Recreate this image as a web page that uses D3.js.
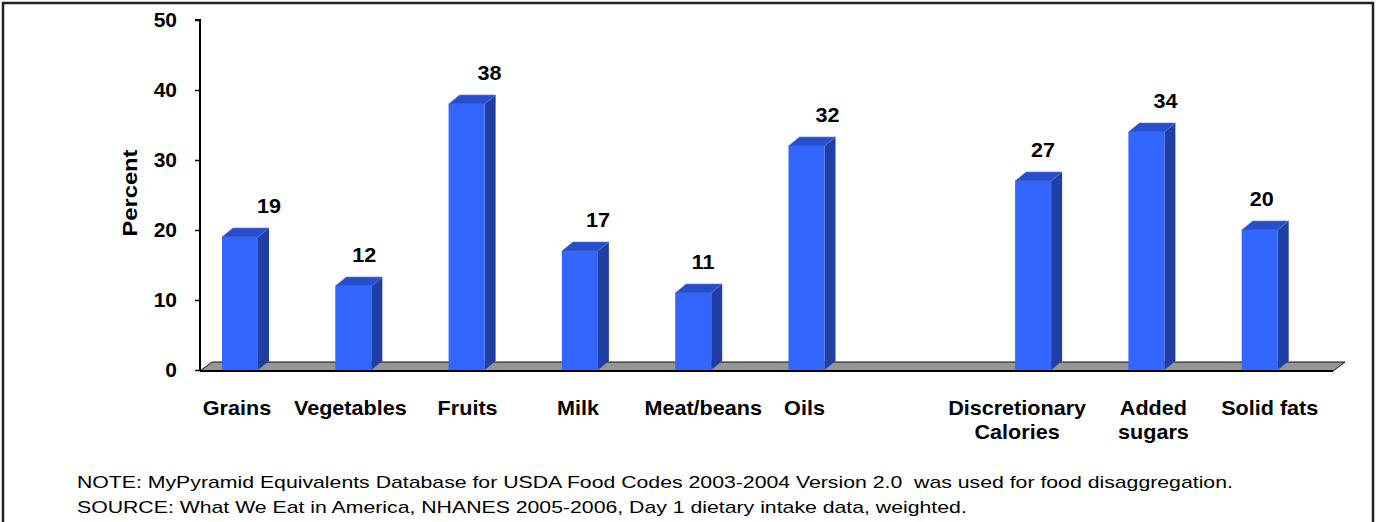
<!DOCTYPE html>
<html>
<head>
<meta charset="utf-8">
<script src="https://cdn.jsdelivr.net/npm/d3@7"></script>
<style>
  html, body { margin: 0; padding: 0; background: #fff; }
  svg { display: block; font-family: Arial, "Liberation Sans", sans-serif; }
  .note { white-space: pre; }
</style>
</head>
<body>
<svg id="chart" width="1382" height="522"></svg>
<script>
// Share of intake by food group (percent); the empty slot separates the two groups
const categories = ["Grains", "Vegetables", "Fruits", "Milk", "Meat/beans", "Oils", "gap",
                    "Discretionary\nCalories", "Added\nsugars", "Solid fats"];
const values = [19, 12, 38, 17, 11, 32, null, 27, 34, 20];
const yTicks = [0, 10, 20, 30, 40, 50];
const yTitle = "Percent";
const notes = [
  "NOTE: MyPyramid Equivalents Database for USDA Food Codes 2003-2004 Version 2.0  was used for food disaggregation.",
  "SOURCE: What We Eat in America, NHANES 2005-2006, Day 1 dietary intake data, weighted."
];

// hand-placed label offsets (px from the bar's front-face centre)
const valueLabelShift = [29, 11, 23, 18, 10, 21, 0, 10, 19, 2];
const categoryLabelShift = [-3, -3, 1, -2, 10, -2, 0, -16, 7, 10];

const svg = d3.select("#chart");

// outer frame
svg.append("rect").attr("x", 3).attr("y", 3).attr("width", 1370).attr("height", 530)
  .attr("fill", "none").attr("stroke", "#222").attr("stroke-width", 2.5);

const x0 = 200, x1 = 1333, yTop = 20, yBase = 370;
const depthX = 11, depthY = 9;
const barW = 36, barInset = 22;
const wide = 1.08; // horizontal stretch of the bold labels

const x = d3.scaleBand().domain(categories).range([x0, x1]).padding(0);
const y = d3.scaleLinear().domain([0, 50]).range([yBase, yTop]);
const frontCenter = c => x(c) + barInset + barW / 2;

// floor of the 3-D plot
const floorY = yBase + 1;
svg.append("path")
  .attr("d", `M${x0},${floorY} L${x1},${floorY} L${x1 + depthX + 1},${floorY - depthY} L${x0 + depthX + 1},${floorY - depthY} Z`)
  .attr("fill", "#969696").attr("stroke", "#111").attr("stroke-width", 1);
svg.append("line").attr("x1", x0).attr("x2", x1).attr("y1", floorY).attr("y2", floorY)
  .attr("stroke", "#000").attr("stroke-width", 2);

// y axis
const yAxis = d3.axisLeft(y).tickValues(yTicks).tickSize(5).tickPadding(18);
const gy = svg.append("g").attr("transform", `translate(${x0},0)`).call(yAxis);
gy.select(".domain").attr("stroke", "#000").attr("stroke-width", 2)
  .attr("d", `M-5,${yTop}H0V${floorY}`);
gy.selectAll(".tick line").attr("stroke", "#000").attr("stroke-width", 1.5);
gy.selectAll(".tick text")
  .attr("x", null)
  .attr("transform", `translate(-23,0) scale(1.05,1)`)
  .attr("fill", "#000").attr("font-size", 20).attr("font-weight", "bold")
  .attr("font-family", "Arial, 'Liberation Sans', sans-serif");

svg.append("text")
  .attr("transform", `translate(137,193) rotate(-90) scale(1.13,1)`)
  .attr("text-anchor", "middle")
  .attr("font-size", 21).attr("font-weight", "bold").text(yTitle);

// 3-D bars
const data = categories.map((c, i) => ({ c, v: values[i], i })).filter(d => d.v != null);
const bars = svg.append("g").selectAll("g").data(data).join("g");

bars.append("path") // side face
  .attr("d", d => {
    const l = x(d.c) + barInset + barW, t = y(d.v);
    return `M${l},${t} L${l + depthX},${t - depthY} L${l + depthX},${yBase - depthY} L${l},${yBase} Z`;
  })
  .attr("fill", "#1F3FA3");
bars.append("path") // top face
  .attr("d", d => {
    const l = x(d.c) + barInset, t = y(d.v);
    return `M${l},${t} L${l + depthX},${t - depthY} L${l + barW + depthX},${t - depthY} L${l + barW},${t} Z`;
  })
  .attr("fill", "#284FCB").attr("stroke", "#5577E0").attr("stroke-width", 0.6);
bars.append("rect") // front face
  .attr("x", d => x(d.c) + barInset).attr("y", d => y(d.v))
  .attr("width", barW).attr("height", d => yBase - y(d.v))
  .attr("fill", "#3366FF");

// value labels
bars.append("text")
  .attr("transform", d => `translate(${frontCenter(d.c) + valueLabelShift[d.i]},${y(d.v) - 24}) scale(${wide},1)`)
  .attr("text-anchor", "middle")
  .attr("font-size", 20).attr("font-weight", "bold")
  .text(d => d.v);

// category labels
const cats = svg.append("g").selectAll("text")
  .data(data).join("text")
  .attr("transform", d => `translate(${frontCenter(d.c) + categoryLabelShift[d.i]},415) scale(${wide},1)`)
  .attr("text-anchor", "middle")
  .attr("font-size", 20).attr("font-weight", "bold");
cats.selectAll("tspan").data(d => d.c.split("\n")).join("tspan")
  .attr("x", 0)
  .attr("dy", (d, i) => i === 0 ? 0 : 24)
  .text(d => d);

// notes
svg.append("g").selectAll("text").data(notes).join("text")
  .attr("class", "note")
  .attr("transform", (d, i) => `translate(77,${488 + i * 25}) scale(1.25,1)`)
  .attr("font-size", 17)
  .text(d => d);
</script>
</body>
</html>
